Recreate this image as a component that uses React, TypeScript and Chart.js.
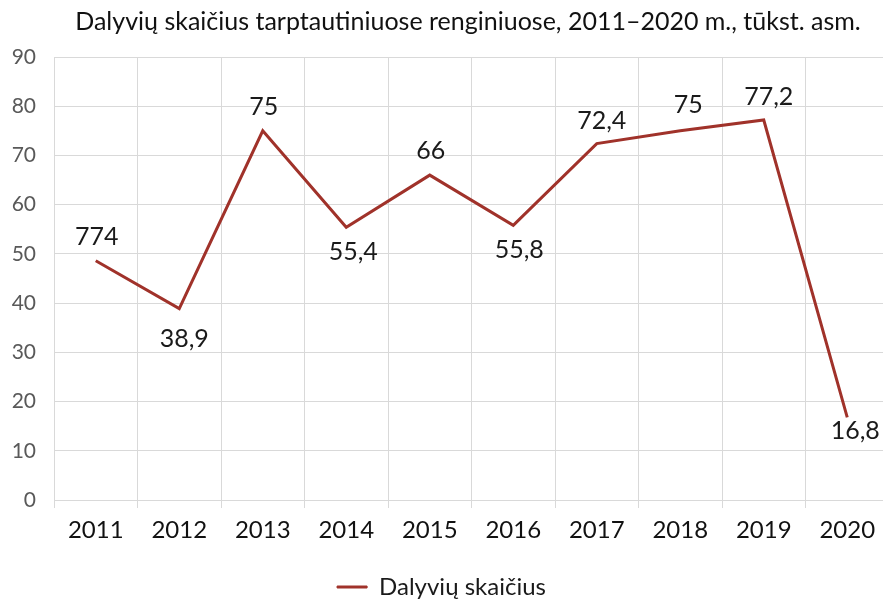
import React, { useEffect, useRef } from "react";
import { Chart, registerables } from "chart.js";

Chart.register(...registerables);

const categories = ["2011", "2012", "2013", "2014", "2015", "2016", "2017", "2018", "2019", "2020"];
const values = [48.6, 38.9, 75, 55.4, 66, 55.8, 72.4, 75, 77.2, 16.8];
const valueLabels = ["774", "38,9", "75", "55,4", "66", "55,8", "72,4", "75", "77,2", "16,8"];
// label placement relative to each point: [dx, dy]
const labelOffsets: [number, number][] = [
  [1, -24], [5, 30], [1, -24], [7, 25], [1, -24], [6, 25], [5, -23], [8, -26], [5, -23], [8, 14],
];
const yTicks = [0, 10, 20, 30, 40, 50, 60, 70, 80, 90];
const seriesName = "Dalyvių skaičius";
const titleText = "Dalyvių skaičius tarptautiniuose renginiuose, 2011–2020 m., tūkst. asm.";

const LINE_COLOR = "#A0322A";
const FONT = "Lato, 'Noto Sans', sans-serif";

const titlePlugin = {
  id: "customTitle",
  afterDraw(chart: any) {
    const ctx = chart.ctx;
    ctx.save();
    ctx.font = `25px ${FONT}`;
    ctx.fillStyle = "#111";
    ctx.textAlign = "center";
    ctx.textBaseline = "middle";
    ctx.fillText(titleText, 468, 22);
    ctx.restore();
  },
};

const legendShiftPlugin = {
  id: "legendShift",
  afterLayout(chart: any) {
    const lg = chart.legend;
    if (lg) {
      lg.top += 4;
      lg.bottom += 4;
      lg.left -= 3;
      lg.right -= 3;
    }
  },
};

const dataLabelPlugin = {
  id: "dataLabels",
  afterDatasetsDraw(chart: any) {
    const ctx = chart.ctx;
    const meta = chart.getDatasetMeta(0);
    ctx.save();
    ctx.font = `25px ${FONT}`;
    ctx.fillStyle = "#1a1a1a";
    ctx.textAlign = "center";
    ctx.textBaseline = "middle";
    meta.data.forEach((pt: any, i: number) => {
      const [dx, dy] = labelOffsets[i];
      ctx.fillText(valueLabels[i], pt.x + dx, pt.y + dy);
    });
    ctx.restore();
  },
};

export default function App() {
  const ref = useRef<HTMLCanvasElement>(null);
  useEffect(() => {
    if (!ref.current) return;
    const chart = new Chart(ref.current, {
      type: "line",
      data: {
        labels: categories,
        datasets: [
          {
            label: seriesName,
            data: values,
            borderColor: LINE_COLOR,
            backgroundColor: LINE_COLOR,
            borderWidth: 3,
            pointRadius: 0,
            tension: 0,
          },
        ],
      },
      options: {
        responsive: false,
        animation: false,
        layout: { padding: { top: 57, left: 0, right: 0, bottom: 0 } },
        plugins: {
          title: { display: false },
          tooltip: { enabled: false },
          legend: {
            position: "bottom",
            labels: {
              font: { family: FONT, size: 24 },
              color: "#1a1a1a",
              boxWidth: 30,
              boxHeight: 2,
              padding: 0,
              generateLabels(chart: any) {
                const items = Chart.defaults.plugins.legend.labels.generateLabels(chart);
                return items.map((it: any) => ({ ...it, lineWidth: 1 }));
              },
            },
          },
        },
        scales: {
          x: {
            offset: true,
            grid: { offset: true, color: "#d9d9d9", lineWidth: 1, tickLength: 8, drawTicks: true },
            border: { display: false },
            ticks: { font: { family: FONT, size: 24 }, color: "#111", padding: 8 },
            afterFit(scale: any) {
              scale.height = 71;
            },
          },
          y: {
            min: 0,
            max: 90,
            afterBuildTicks(scale: any) {
              scale.ticks = yTicks.map((v) => ({ value: v }));
            },
            grid: { color: "#d9d9d9", lineWidth: 1, drawTicks: false },
            border: { display: false },
            ticks: { font: { family: FONT, size: 21 }, color: "#595959", padding: 18 },
            afterFit(scale: any) {
              scale.width = 54;
            },
          },
        },
      },
      plugins: [titlePlugin, dataLabelPlugin, legendShiftPlugin],
    });
    return () => chart.destroy();
  }, []);
  return (
    <div style={{ position: "fixed", left: 0, top: 0, width: 883, height: 605, background: "#fff", overflow: "hidden" }}>
      <canvas ref={ref} width={889} height={605} style={{ display: "block" }} />
    </div>
  );
}
